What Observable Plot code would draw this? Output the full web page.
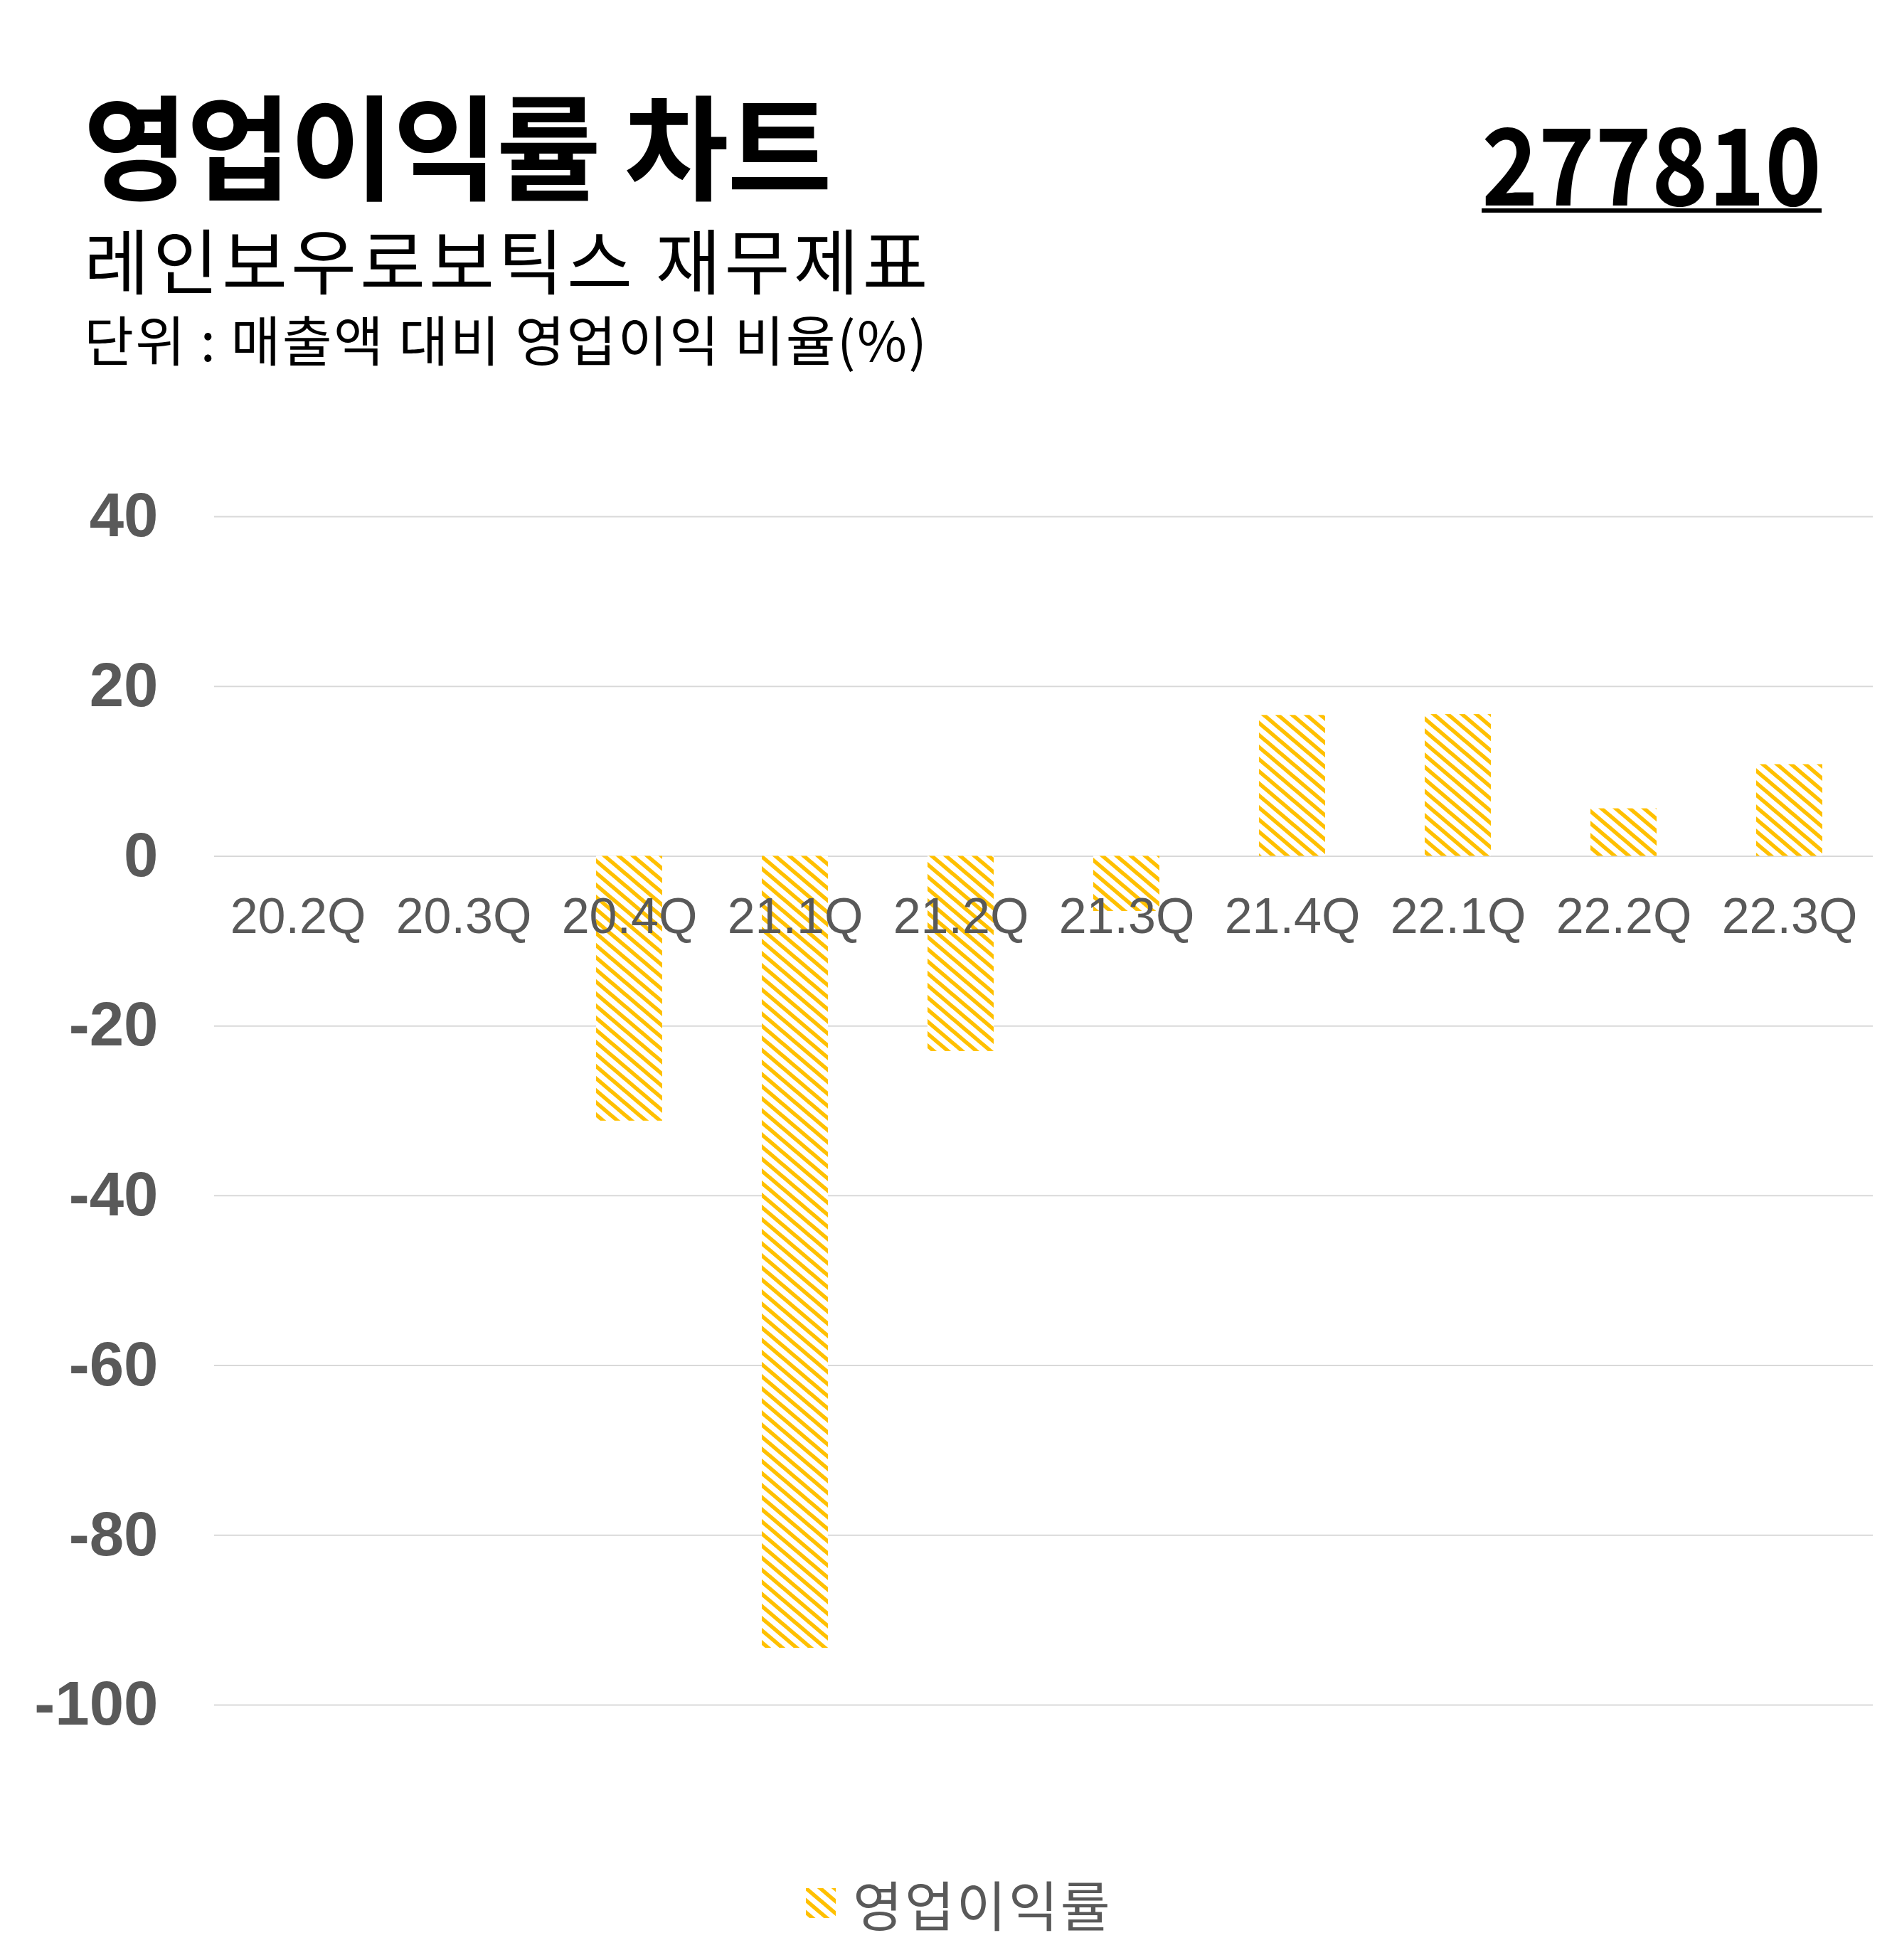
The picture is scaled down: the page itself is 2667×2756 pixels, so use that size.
<!DOCTYPE html>
<html>
<head>
<meta charset="utf-8">
<script src="https://cdn.jsdelivr.net/npm/d3@7"></script>
<script src="https://cdn.jsdelivr.net/npm/@observablehq/plot@0.6"></script>
<style>
  html, body { margin: 0; padding: 0; background: #fff; }
  #page { position: relative; width: 2667px; height: 2756px; background: #fff; overflow: hidden; font-family: "Noto Sans CJK KR", "Noto Sans", sans-serif; }
  .abs { position: absolute; white-space: nowrap; line-height: 1; }
  #title { left: 117px; top: 119px; font-size: 160px; font-weight: 700; color: #000; letter-spacing: -2px; }
  #code { right: 106px; top: 149px; font-size: 150px; font-weight: 700; color: #000; text-decoration: underline; text-decoration-thickness: 6px; text-underline-offset: 4px; transform: scaleX(0.9); transform-origin: right center; }
  #subtitle { left: 118px; top: 313px; font-size: 100px; font-weight: 400; color: #000; letter-spacing: 5px; }
  #unit { left: 118px; top: 437px; font-size: 76px; font-weight: 400; color: #000; letter-spacing: 2.3px; }
  #chart { position: absolute; left: 0; top: 600px; }
  #legend { position: absolute; left: 1133px; top: 2638px; display: flex; align-items: center; gap: 24px; }
  #legend span { font-size: 76px; color: #595959; line-height: 1; letter-spacing: 3px; }
</style>
</head>
<body>
<div id="page">
  <div id="title" class="abs"></div>
  <div id="code" class="abs"></div>
  <div id="subtitle" class="abs"></div>
  <div id="unit" class="abs"></div>
  <div id="chart"></div>
  <div id="legend"></div>
</div>
<script>
// ---- data ----
const titleText = "영업이익률 차트";
const stockCode = "277810";
const subtitleText = "레인보우로보틱스 재무제표";
const unitText = "단위 : 매출액 대비 영업이익 비율(%)";
const seriesName = "영업이익률";
const quarters = ["20.2Q", "20.3Q", "20.4Q", "21.1Q", "21.2Q", "21.3Q", "21.4Q", "22.1Q", "22.2Q", "22.3Q"];
const operatingMargin = [null, null, -31.2, -93.3, -23.0, -6.5, 16.6, 16.7, 5.6, 10.8];
const yTicks = [40, 20, 0, -20, -40, -60, -80, -100];
const yDomain = [-100, 40];

document.getElementById("title").textContent = titleText;
document.getElementById("code").textContent = stockCode;
document.getElementById("subtitle").textContent = subtitleText;
document.getElementById("unit").textContent = unitText;

const table = quarters.map((q, i) => ({q, v: operatingMargin[i]})).filter(d => d.v != null);

const NS = "http://www.w3.org/2000/svg";
function makePattern(id) {
  const w = 20, h = 17;
  const pattern = document.createElementNS(NS, "pattern");
  pattern.setAttribute("id", id);
  pattern.setAttribute("patternUnits", "userSpaceOnUse");
  pattern.setAttribute("width", w);
  pattern.setAttribute("height", h);
  const bg = document.createElementNS(NS, "rect");
  bg.setAttribute("width", w); bg.setAttribute("height", h); bg.setAttribute("fill", "#ffffff");
  pattern.appendChild(bg);
  const p = document.createElementNS(NS, "path");
  p.setAttribute("d", `M${-w/2},${-h/2}L${w*1.5},${h*1.5}M${-w*1.5},${-h/2}L${w/2},${h*1.5}M${w/2},${-h/2}L${w*2.5},${h*1.5}`);
  p.setAttribute("stroke", "#FFC000");
  p.setAttribute("stroke-width", 5.5);
  p.setAttribute("fill", "none");
  pattern.appendChild(p);
  return pattern;
}
function defsMark() {
  const defs = document.createElementNS(NS, "defs");
  defs.appendChild(makePattern("hatch"));
  return defs;
}

const chart = Plot.plot({
  width: 2667,
  height: 1897,
  marginTop: 126,
  marginBottom: 100,
  marginLeft: 301,
  marginRight: 34,
  style: {background: "#fff", color: "#595959", fontFamily: "'Liberation Sans', Arial, sans-serif"},
  x: {domain: quarters, paddingInner: 0.6, paddingOuter: 0.3, axis: null},
  y: {domain: yDomain, axis: null},
  marks: [
    defsMark,
    Plot.gridY(yTicks, {stroke: "#d9d9d9", strokeOpacity: 1, strokeWidth: 2}),
    Plot.barY(table, {x: "q", y: "v", fill: "url(#hatch)"}),
    Plot.axisY(yTicks, {label: null, tickSize: 0, tickPadding: 79, fontSize: 87, fontWeight: "bold", fill: "#595959", fontFamily: "'Liberation Sans', Arial, sans-serif", tickFormat: d => String(d), letterSpacing: 8}),
    Plot.text(quarters, {x: d => d, y: () => 0, dy: 86, fontSize: 70, fill: "#595959", fontFamily: "'Liberation Sans', Arial, sans-serif"})
  ]
});
document.getElementById("chart").appendChild(chart);

// legend
const legend = document.getElementById("legend");
const sw = document.createElementNS(NS, "svg");
sw.setAttribute("width", 42); sw.setAttribute("height", 42);
const sdefs = document.createElementNS(NS, "defs");
sdefs.appendChild(makePattern("hatchLegend"));
sw.appendChild(sdefs);
const sr = document.createElementNS(NS, "rect");
sr.setAttribute("width", 42); sr.setAttribute("height", 42); sr.setAttribute("fill", "url(#hatchLegend)");
sw.appendChild(sr);
legend.appendChild(sw);
const lt = document.createElement("span");
lt.textContent = seriesName;
legend.appendChild(lt);
</script>
</body>
</html>
